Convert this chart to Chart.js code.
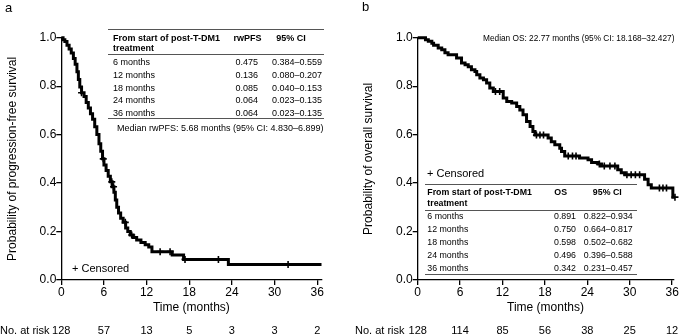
<!DOCTYPE html>
<html>
<head>
<meta charset="utf-8">
<script src="https://cdn.jsdelivr.net/npm/chart.js@4.4.0/dist/chart.umd.min.js"></script>
<style>
  body { margin: 0; background: #fff; }
  #wrap { position: relative; width: 685px; height: 334px; overflow: hidden; font-family: "Liberation Sans", Arial, sans-serif; color: #000; }
  canvas { position: absolute; top: 0; }
  .t { position: absolute; white-space: nowrap; line-height: 1; transform: translateY(-50%); }
  .c { transform: translate(-50%, -50%); }
  .r { transform: translate(-100%, -50%); }
  .b { font-weight: bold; }
  .rule { position: absolute; height: 0; border-top: 1.3px solid #555; }
</style>
</head>
<body>
<div id="wrap">
  <canvas id="pfsChart" width="340" height="334" style="left:0"></canvas>
  <canvas id="osChart" width="345" height="334" style="left:340px"></canvas>
</div>
<script>
const xTicks = [0, 6, 12, 18, 24, 30, 36];
const yTicks = [0, 0.2, 0.4, 0.6, 0.8, 1.0];

// rwPFS curve: time of each drop (months) and survival after it
const pfsTime = [0, 0.25, 0.5, 0.8, 1.1, 1.4, 1.7, 1.95, 2.2, 2.4, 2.6, 2.85, 3.2, 3.5, 3.8, 4.1, 4.4, 4.7, 5.0, 5.3, 5.55, 5.8, 6.0, 6.3, 6.6, 6.9, 7.15, 7.4, 7.6, 7.8, 8.05, 8.35, 8.7, 9.05, 9.35, 9.7, 10.1, 10.6, 11.2, 11.8, 12.3, 12.75, 15.6, 17.2, 23.5, 36.6];
const pfsSurv = [1.0, 0.992, 0.984, 0.969, 0.953, 0.937, 0.914, 0.89, 0.859, 0.828, 0.797, 0.773, 0.757, 0.733, 0.71, 0.686, 0.663, 0.632, 0.6, 0.562, 0.531, 0.5, 0.475, 0.452, 0.428, 0.405, 0.385, 0.362, 0.33, 0.3, 0.277, 0.255, 0.238, 0.215, 0.2, 0.186, 0.175, 0.165, 0.155, 0.145, 0.136, 0.117, 0.103, 0.085, 0.064, 0.064];
const pfsCensor = [2.85, 5.9, 7.1, 7.35, 9.0, 9.9, 13.9, 15.3, 17.4, 22.1, 31.9];
const pfsRisk = [128, 57, 13, 5, 3, 3, 2];

// OS curve
const osTime = [0, 1.1, 1.5, 2.0, 2.25, 2.9, 3.4, 3.85, 4.3, 5.5, 6.2, 6.7, 7.15, 7.6, 8.1, 8.35, 8.8, 9.3, 9.75, 10.2, 10.7, 12.1, 12.6, 13.3, 14.0, 14.45, 14.9, 15.4, 15.9, 16.3, 16.6, 18.45, 18.9, 19.4, 20.1, 20.35, 20.8, 22.9, 24.1, 24.6, 25.5, 26.0, 28.3, 28.8, 29.3, 32.1, 32.6, 33.05, 36.1, 36.4];
const osSurv = [1.0, 0.992, 0.985, 0.977, 0.969, 0.957, 0.95, 0.938, 0.93, 0.916, 0.896, 0.888, 0.88, 0.868, 0.861, 0.847, 0.834, 0.826, 0.813, 0.792, 0.778, 0.751, 0.737, 0.73, 0.716, 0.702, 0.682, 0.654, 0.633, 0.613, 0.598, 0.586, 0.571, 0.558, 0.544, 0.53, 0.512, 0.503, 0.496, 0.485, 0.479, 0.471, 0.455, 0.443, 0.434, 0.416, 0.393, 0.38, 0.342, 0.342];
const osCensor = [11.0, 11.6, 16.8, 17.3, 17.8, 21.3, 21.9, 22.4, 25.7, 26.4, 27.2, 27.9, 29.6, 30.2, 30.8, 31.4, 34.2, 34.7, 35.2, 36.4];
const osRisk = [128, 114, 85, 56, 38, 25, 12];

// summary tables
const tableRows = ["6 months", "12 months", "18 months", "24 months", "36 months"];
const pfsEst = ["0.475", "0.136", "0.085", "0.064", "0.064"];
const pfsCI = ["0.384–0.559", "0.080–0.207", "0.040–0.153", "0.023–0.135", "0.023–0.135"];
const osEst = ["0.891", "0.750", "0.598", "0.496", "0.342"];
const osCI = ["0.822–0.934", "0.664–0.817", "0.502–0.682", "0.396–0.588", "0.231–0.457"];

const FONT = '"Liberation Sans", Arial, sans-serif';
Chart.defaults.font.family = FONT;
Chart.defaults.color = "#000";

const wrap = document.getElementById("wrap");

function txt(str, x, y, size, cls) {
  const el = document.createElement("div");
  el.className = "t " + (cls || "");
  el.textContent = str;
  el.style.left = x + "px";
  el.style.top = y + "px";
  el.style.fontSize = size + "px";
  wrap.appendChild(el);
  return el;
}

function rule(x1, x2, y) {
  const el = document.createElement("div");
  el.className = "rule";
  el.style.left = x1 + "px";
  el.style.width = (x2 - x1) + "px";
  el.style.top = y + "px";
  wrap.appendChild(el);
}

function stepAt(times, surv, t) {
  let s = surv[0];
  for (let i = 0; i < times.length; i++) {
    if (times[i] <= t) s = surv[i];
  }
  return s;
}

function makeChart(id, times, surv, censor, opts) {
  const steps = times.map((t, i) => ({ x: t, y: surv[i] }));
  const marks = censor.map((t) => ({ x: t, y: stepAt(times, surv, t) }));
  const ctx = document.getElementById(id).getContext("2d");
  return new Chart(ctx, {
    type: "line",
    data: {
      datasets: [
        {
          data: steps,
          // horizontal at the old value, then drop: Kaplan-Meier style
          stepped: "before",
          borderColor: "#000",
          borderWidth: 3,
          pointRadius: 0,
          fill: false,
          clip: false,
        },
        {
          type: "scatter",
          data: marks,
          pointStyle: "cross",
          pointRadius: 3.5,
          borderColor: "#000",
          pointBorderWidth: 1.6,
          clip: false,
        },
      ],
    },
    options: {
      responsive: false,
      animation: false,
      events: [],
      plugins: { legend: { display: false }, tooltip: { enabled: false } },
      layout: { padding: { left: opts.padLeft, right: opts.padRight, top: 37.7, bottom: 19 } },
      scales: {
        x: {
          type: "linear",
          min: 0,
          max: opts.xMax,
          afterBuildTicks: (s) => { s.ticks = xTicks.map((v) => ({ value: v })); },
          afterFit: (s) => { s.height = 35; },
          grid: { drawOnChartArea: false, tickLength: 5, color: "#000", lineWidth: 1.3 },
          border: { color: "#000", width: 1.3 },
          ticks: { font: { size: 12 }, padding: 0, maxRotation: 0, autoSkip: false },
          title: { display: true, text: "Time (months)", font: { size: 12 }, padding: 0 },
        },
        y: {
          min: 0,
          max: 1,
          afterBuildTicks: (s) => { s.ticks = yTicks.map((v) => ({ value: v })); },
          afterFit: (s) => { s.width = opts.yWidth; },
          grid: { drawOnChartArea: false, tickLength: 5, color: "#000", lineWidth: 1.3 },
          border: { color: "#000", width: 1.3 },
          ticks: { font: { size: 12 }, padding: 0, callback: (v) => v.toFixed(1) },
          title: { display: true, text: opts.yTitle, font: { size: 12 }, padding: 0 },
        },
      },
    },
  });
}

const pfsChart = makeChart("pfsChart", pfsTime, pfsSurv, pfsCensor, {
  padLeft: 5, padRight: 18.5, yWidth: 56.3, xMax: 36.6,
  yTitle: "Probability of progression-free survival",
});
const osChart = makeChart("osChart", osTime, osSurv, osCensor, {
  padLeft: 21.1, padRight: 11.8, yWidth: 56.6, xMax: 36.15,
  yTitle: "Probability of overall survival",
});

// panel letters
txt("a", 5, 7, 13);
txt("b", 362, 6, 13);

// number at risk rows, aligned to the x ticks
txt("No. at risk", 0, 330, 11);
txt("No. at risk", 355, 330, 11);
xTicks.forEach((t, i) => {
  txt(String(pfsRisk[i]), pfsChart.scales.x.getPixelForValue(t), 330, 11, "c");
  txt(String(osRisk[i]), 340 + osChart.scales.x.getPixelForValue(t), 330, 11, "c");
});

// panel a table
rule(108, 324, 29);
txt("From start of post-T-DM1", 113, 37.5, 9, "b");
txt("treatment", 113, 48, 9, "b");
txt("rwPFS", 247.5, 37.5, 9, "b c");
txt("95% CI", 291, 37.5, 9, "b c");
rule(108, 324, 54.3);
tableRows.forEach((lab, i) => {
  const y = 62 + i * 12.83;
  txt(lab, 113, y, 9);
  txt(pfsEst[i], 258, y, 9, "r");
  txt(pfsCI[i], 322, y, 9, "r");
});
rule(108, 324, 118.3);
txt("Median rwPFS: 5.68 months (95% CI: 4.830–6.899)", 117, 128.3, 9);
txt("+ Censored", 72, 268.3, 11);

// panel b table (printed a touch smaller in the source)
txt("Median OS: 22.77 months (95% CI: 18.168–32.427)", 483, 38, 8.3);
txt("+ Censored", 427, 173.3, 11);
rule(425, 637, 184);
txt("From start of post-T-DM1", 427.3, 192.3, 8.8, "b");
txt("treatment", 427.3, 202.7, 8.8, "b");
txt("OS", 560.7, 192.3, 8.8, "b c");
txt("95% CI", 607.3, 192.3, 8.8, "b c");
rule(425, 637, 210);
tableRows.forEach((lab, i) => {
  const y = 215.7 + i * 13;
  txt(lab, 427.3, y, 8.8);
  txt(osEst[i], 576, y, 8.8, "r");
  txt(osCI[i], 632.7, y, 8.8, "r");
});
rule(425, 637, 274.3);
</script>
</body>
</html>
